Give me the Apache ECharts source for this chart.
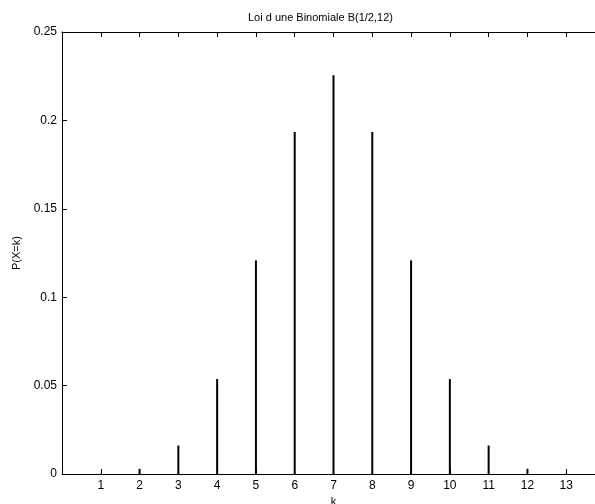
<!DOCTYPE html>
<html>
<head>
<meta charset="utf-8">
<script src="https://cdn.jsdelivr.net/npm/echarts@6/dist/echarts.min.js"></script>
<style>
html,body{margin:0;padding:0;background:#fff;}
#chart{width:595px;height:504px;}
</style>
</head>
<body>
<div id="chart"></div>
<script>
const titleText = 'Loi d une Binomiale B(1/2,12)';
const xLabel = 'k';
const yLabel = 'P(X=k)';
const kValues = [1, 2, 3, 4, 5, 6, 7, 8, 9, 10, 11, 12, 13];
const probValues = [0.0002, 0.0029, 0.0161, 0.0537, 0.1208, 0.1934, 0.2256, 0.1934, 0.1208, 0.0537, 0.0161, 0.0029, 0.0002];
const yTicks = [0, 0.05, 0.1, 0.15, 0.2, 0.25];

const chart = echarts.init(document.getElementById('chart'), null, {renderer: 'canvas'});
const font = 'Liberation Sans, Arial, Helvetica, sans-serif';
const data = kValues.map((k, i) => [k, probValues[i]]);

function axisStyle() {
  return {
    axisLine: {show: true, onZero: false, lineStyle: {color: '#000', width: 1}},
    axisTick: {show: true, inside: true, length: 5, lineStyle: {color: '#000', width: 1}},
    splitLine: {show: false}
  };
}

chart.setOption({
  animation: false,
  backgroundColor: '#fff',
  title: {
    text: titleText,
    left: 243,
    top: 7,
    textStyle: {fontFamily: font, fontSize: 11, fontWeight: 'normal', color: '#000'}
  },
  grid: {left: 62, top: 32, width: 543, height: 442, containLabel: false, outerBoundsMode: 'none'},
  xAxis: [
    Object.assign({
      type: 'value', position: 'bottom', min: 0, max: 14, interval: 1,
      name: xLabel, nameLocation: 'middle', nameGap: 21,
      nameTextStyle: {fontFamily: font, fontSize: 11, color: '#000'},
      axisLabel: {
        fontFamily: font, fontSize: 12, color: '#000', margin: 6,
        formatter: v => (kValues.indexOf(v) >= 0 ? String(v) : '')
      }
    }, axisStyle()),
    Object.assign({
      type: 'value', position: 'top', min: 0, max: 14, interval: 1,
      axisLabel: {show: false}
    }, axisStyle())
  ],
  yAxis: [
    Object.assign({
      type: 'value', position: 'left', min: 0, max: 0.25, interval: 0.05,
      name: yLabel, nameLocation: 'middle', nameGap: 29, nameRotate: 90,
      nameTextStyle: {fontFamily: font, fontSize: 11, color: '#000'},
      axisLabel: {
        fontFamily: font, fontSize: 12, color: '#000', margin: 5,
        formatter: v => {
          const t = yTicks.find(y => Math.abs(y - v) < 1e-9);
          return t === undefined ? '' : String(t);
        }
      }
    }, axisStyle()),
    Object.assign({
      type: 'value', position: 'right', min: 0, max: 0.25, interval: 0.05,
      axisLabel: {show: false}
    }, axisStyle())
  ],
  series: [{
    type: 'custom',
    xAxisIndex: 0,
    yAxisIndex: 0,
    data: data,
    renderItem: function (params, api) {
      const p0 = api.coord([api.value(0), 0]);
      const p1 = api.coord([api.value(0), api.value(1)]);
      return {
        type: 'line',
        shape: {x1: p0[0], y1: p0[1], x2: p1[0], y2: p1[1]},
        style: {stroke: '#000', lineWidth: 2}
      };
    }
  }]
});
</script>
</body>
</html>
